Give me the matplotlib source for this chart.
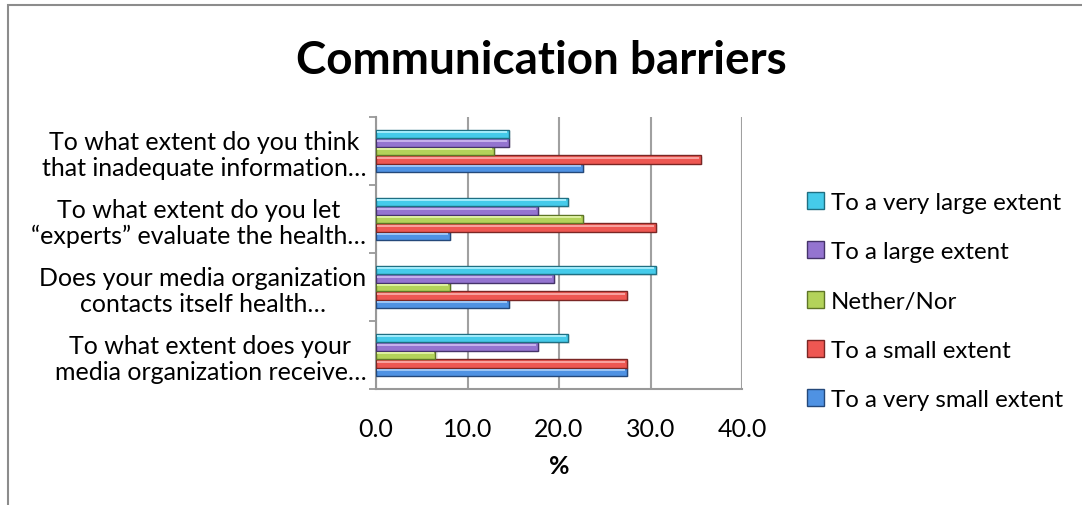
import numpy as np
import matplotlib.pyplot as plt
from matplotlib.patches import Rectangle, Patch

plt.rcParams['font.family'] = ['Lato', 'DejaVu Sans']

# questions listed bottom to top, as on the axis
questions = [
    "To what extent does your\nmedia organization receive…",
    "Does your media organization\ncontacts itself health…",
    "To what extent do you let\n“experts” evaluate the health…",
    "To what extent do you think\nthat inadequate information…",
]

series = ["To a very small extent", "To a small extent", "Nether/Nor",
          "To a large extent", "To a very large extent"]

very_small = [27.4, 14.5, 8.1, 22.6]
small = [27.4, 27.4, 30.6, 35.5]
neither = [6.5, 8.1, 22.6, 12.9]
large = [17.7, 19.4, 17.7, 14.5]
very_large = [21.0, 30.6, 21.0, 14.5]

values = [very_small, small, neither, large, very_large]
colors = ["#4f92e3", "#ee5752", "#b3d35a", "#9474d0", "#45cbea"]
edges = ["#24487a", "#7a2624", "#5e7526", "#45336a", "#1f6f82"]
lights = ["#9cc4f3", "#f8a19e", "#dcee9f", "#c5b0ec", "#a0eafa"]

fs = 18

fig = plt.figure(figsize=(10.82, 5.06), dpi=100)
ax = fig.add_axes([376 / 1082, 1 - 390 / 506, (742 - 376) / 1082, (390 - 118) / 506])

y = np.arange(len(questions))
h = 0.124
for j, vals in enumerate(values):
    pos = y + (j - 2) * h
    # soft drop shadow
    ax.barh(pos - 0.02, np.array(vals) + 0.25, height=h, color="#000000",
            alpha=0.08, linewidth=0, zorder=2)
    ax.barh(pos, vals, height=h, color=colors[j], edgecolor=edges[j],
            linewidth=1.0, zorder=3)
    # bevel highlight along the top edge
    ax.barh(pos + h * 0.22, np.array(vals) - 0.35, height=h * 0.22,
            left=0.15, color=lights[j], linewidth=0, zorder=4)

ax.set_xlim(0, 40)
ax.set_ylim(-0.5, 3.5)
ax.set_xticks([0, 10, 20, 30, 40])
ax.set_xticklabels([f"{t:.1f}" for t in [0, 10, 20, 30, 40]])
ax.set_yticks(y)
ax.set_yticklabels(questions, multialignment="center", linespacing=1.15)
ax.set_yticks(np.arange(-0.5, 4, 1), minor=True)
ax.tick_params(axis="x", length=0, pad=20, labelsize=fs)
ax.tick_params(axis="y", which="major", length=0, pad=7, labelsize=fs)
ax.tick_params(axis="y", which="minor", length=5, color="#999999", width=1.3)
ax.xaxis.grid(True, color="#a0a0a0", linewidth=1.5, zorder=0)
ax.set_axisbelow(True)
for s in ["top", "right"]:
    ax.spines[s].set_visible(False)
for s in ["left", "bottom"]:
    ax.spines[s].set_color("#999999")
    ax.spines[s].set_linewidth(1.5)
ax.set_xlabel("%", fontsize=fs, fontweight="bold", labelpad=10)

fig.text(541 / 1082, 1 - 61 / 506, "Communication barriers", ha="center",
         va="center", fontsize=33, fontweight="bold")

handles = [Patch(facecolor=colors[j], edgecolor=edges[j], linewidth=1.0)
           for j in range(len(series))]
fig.legend(handles[::-1], series[::-1], loc="center left",
           bbox_to_anchor=(795 / 1082, 1 - 302 / 506), frameon=False,
           fontsize=17.3, handlelength=0.7, handleheight=0.7,
           handletextpad=0.3, labelspacing=1.18, borderpad=0)

# chart area border
fig.patches.append(Rectangle((8 / 1082, -0.2), 1.5, 1.2 - 6 / 506,
                             transform=fig.transFigure, fill=False,
                             edgecolor="#8c8c8c", linewidth=1.5))

fig.savefig("out.png", dpi=100, facecolor="white")
